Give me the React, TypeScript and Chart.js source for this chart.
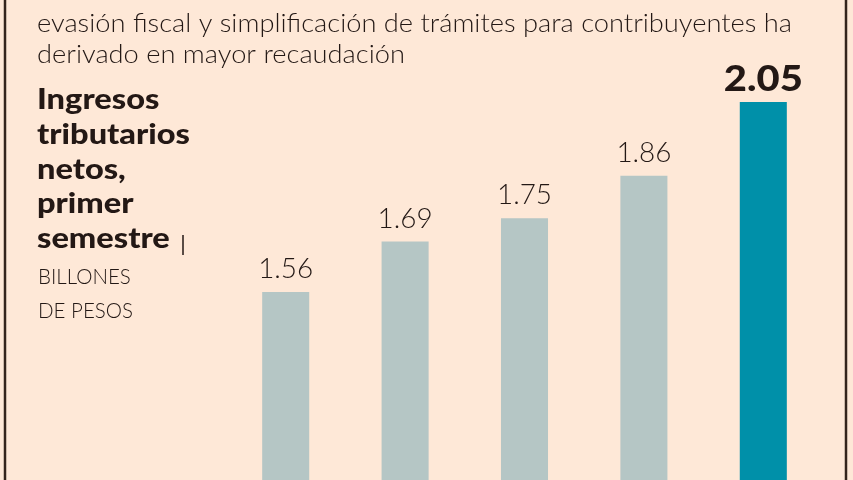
import React, { useEffect, useRef } from "react";
import { Chart, registerables } from "chart.js";

Chart.register(...registerables);

// ---- data ----
const categories = ["2019", "2020", "2021", "2022", "2023"];
const values = [1.56, 1.69, 1.75, 1.86, 2.05];
const valueLabels = ["1.56", "1.69", "1.75", "1.86", "2.05"];
const highlight = [false, false, false, false, true];
const introLines = [
  "evasión fiscal y simplificación de trámites para contribuyentes ha",
  "derivado en mayor recaudación",
];
const titleLines = ["Ingresos", "tributarios", "netos,", "primer", "semestre"];
const unitLines = ["BILLONES", "DE PESOS"];

// ---- style ----
const BG = "#fee8d7";
const INK = "#231815";
const FRAME = "#33241b";
const GREY_BAR = "#b5c6c5";
const TEAL_BAR = "#0090a9";
const FAMILY = "Lato, 'Open Sans', sans-serif";

function scaleFor(ctx: CanvasRenderingContext2D, text: string, weight: string, size: number, target: number) {
  ctx.font = `${weight} ${size}px ${FAMILY}`;
  return target / ctx.measureText(text).width;
}

function drawText(
  ctx: CanvasRenderingContext2D,
  text: string,
  x: number,
  y: number,
  weight: string,
  size: number,
  sx: number,
  align: CanvasTextAlign
) {
  ctx.save();
  ctx.font = `${weight} ${size}px ${FAMILY}`;
  ctx.textAlign = align;
  ctx.textBaseline = "alphabetic";
  ctx.translate(x, y);
  ctx.scale(sx, 1);
  ctx.fillText(text, 0, 0);
  ctx.restore();
}

const decorPlugin = {
  id: "decor",
  beforeDraw(chart: any) {
    const ctx = chart.ctx as CanvasRenderingContext2D;
    ctx.save();
    ctx.fillStyle = BG;
    ctx.fillRect(0, 0, chart.width, chart.height);
    ctx.restore();
  },
  afterDatasetsDraw(chart: any) {
    const ctx = chart.ctx as CanvasRenderingContext2D;
    const meta = chart.getDatasetMeta(0);
    ctx.save();
    ctx.fillStyle = INK;
    const lightSx = scaleFor(ctx, "1.56", "300", 28, 55);
    const boldSx = scaleFor(ctx, "2.05", "900", 36, 79);
    meta.data.forEach((bar: any, i: number) => {
      if (highlight[i]) {
        drawText(ctx, valueLabels[i], bar.x, bar.y - 11, "900", 36, boldSx, "center");
      } else {
        drawText(ctx, valueLabels[i], bar.x, bar.y - 14, "300", 28, lightSx, "center");
      }
    });
    ctx.restore();
  },
  afterDraw(chart: any) {
    const ctx = chart.ctx as CanvasRenderingContext2D;
    ctx.save();
    ctx.fillStyle = INK;

    // intro text
    const introSx = scaleFor(ctx, introLines[0], "300", 26, 755);
    drawText(ctx, introLines[0], 37, 32, "300", 26, introSx, "left");
    drawText(ctx, introLines[1], 37, 63, "300", 26, introSx, "left");

    // bold title
    const titleSx = scaleFor(ctx, "tributarios", "900", 28, 153);
    const baselines = [109, 143.75, 178.5, 213.25, 248];
    titleLines.forEach((t, i) => drawText(ctx, t, 37, baselines[i], "900", 28, titleSx, "left"));

    // separator
    ctx.strokeStyle = INK;
    ctx.lineWidth = 1.5;
    ctx.beginPath();
    ctx.moveTo(183, 235);
    ctx.lineTo(183, 255);
    ctx.stroke();

    // unit
    const unitSx = scaleFor(ctx, unitLines[1], "300", 22, 95);
    drawText(ctx, unitLines[0], 38, 284, "300", 22, unitSx, "left");
    drawText(ctx, unitLines[1], 38, 318, "300", 22, unitSx, "left");

    // frame
    ctx.strokeStyle = FRAME;
    ctx.lineWidth = 2.5;
    ctx.beginPath();
    ctx.moveTo(5, 0);
    ctx.lineTo(5, chart.height);
    ctx.moveTo(846, 0);
    ctx.lineTo(846, chart.height);
    ctx.stroke();
    ctx.restore();
  },
};

export default function App() {
  const ref = useRef<HTMLCanvasElement | null>(null);

  useEffect(() => {
    if (!ref.current) return;
    const chart = new Chart(ref.current, {
      type: "bar",
      data: {
        labels: categories,
        datasets: [
          {
            data: values,
            backgroundColor: highlight.map((h) => (h ? TEAL_BAR : GREY_BAR)),
            borderWidth: 0,
            barPercentage: 0.394,
            categoryPercentage: 1,
          },
        ],
      },
      options: {
        responsive: false,
        animation: false,
        layout: { padding: { left: 226, right: 30, top: 0, bottom: 0 } },
        plugins: {
          legend: { display: false },
          tooltip: { enabled: false },
          title: { display: false },
        },
        scales: {
          x: { display: false, offset: true, grid: { display: false } },
          y: { display: false, min: 1.0748, max: 2.3135, grid: { display: false } },
        },
      },
      plugins: [decorPlugin],
    });
    return () => chart.destroy();
  }, []);

  return (
    <div
      style={{
        position: "fixed",
        left: 0,
        top: 0,
        width: 853,
        height: 480,
        overflow: "hidden",
        background: BG,
      }}
    >
      <canvas ref={ref} width={853} height={480} style={{ display: "block" }} />
    </div>
  );
}
